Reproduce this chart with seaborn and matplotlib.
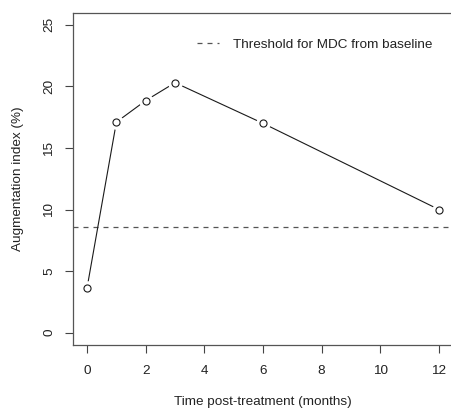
import matplotlib
matplotlib.use("Agg")
import matplotlib.pyplot as plt
import pandas as pd
import seaborn as sns

# Data
months = [0, 1, 2, 3, 6, 12]
aug_index = [3.65, 17.1, 18.85, 20.3, 17.0, 10.0]
mdc_threshold = 8.55
x_ticks = [0, 2, 4, 6, 8, 10, 12]
y_ticks = [0, 5, 10, 15, 20, 25]

df = pd.DataFrame({"month": months, "aug": aug_index})

sns.set_style("ticks")
plt.rcParams["font.family"] = ["Liberation Sans", "DejaVu Sans"]
fs = 9.7

fig = plt.figure(figsize=(4.51, 4.08), dpi=100)
# R-style plot region; the right edge of the box runs just past the image
ax = fig.add_axes([73 / 451, 63 / 408, 380 / 451, 332.5 / 408])

line_col = "#1a1a1a"
# threshold line
ax.axhline(mdc_threshold, color="#555555", lw=0.9, dashes=(4, 4),
           label="Threshold for MDC from baseline")

# type="b" style: line with gaps round the points
sns.lineplot(data=df, x="month", y="aug", color=line_col, lw=0.8, ax=ax,
             legend=False)
ax.scatter(df["month"], df["aug"], s=110, color="white", zorder=3,
           linewidths=0)
ax.scatter(df["month"], df["aug"], s=26, facecolor="white",
           edgecolor=line_col, linewidths=0.8, zorder=4)

ax.set_xlim(-0.48, 12.48)
ax.set_ylim(-1, 26)
ax.set_xticks(x_ticks)
ax.set_yticks(y_ticks)
ax.tick_params(axis="both", length=5.8, width=0.8, color="#444444",
               labelcolor="#222222", labelsize=fs, pad=7)
ax.tick_params(axis="x", pad=8.5)
ax.tick_params(axis="y", labelrotation=90)
for lbl in ax.get_yticklabels():
    lbl.set_va("center")

for side in ["top", "bottom", "left"]:
    ax.spines[side].set_color("#555555")
    ax.spines[side].set_linewidth(0.9)
ax.spines["top"].set_visible(True)
ax.spines["right"].set_visible(False)

ax.set_xlabel("Time post-treatment (months)", color="#222222", fontsize=fs)
ax.set_ylabel("Augmentation index (%)", color="#222222", fontsize=fs)
ax.xaxis.label.set_va("center")
ax.yaxis.label.set_va("center")
ax.xaxis.set_label_coords(0.5, (345 - 402) / 332.5)
ax.yaxis.set_label_coords((18 - 73) / 380, 0.5)

ax.legend(loc="center left", bbox_to_anchor=((197 - 73) / 380, (345 - 45) / 332.5),
          frameon=False, borderpad=0, borderaxespad=0, handlelength=1.6,
          handletextpad=1.1, fontsize=fs, labelcolor="#222222")

fig.savefig("out.png", dpi=100)
